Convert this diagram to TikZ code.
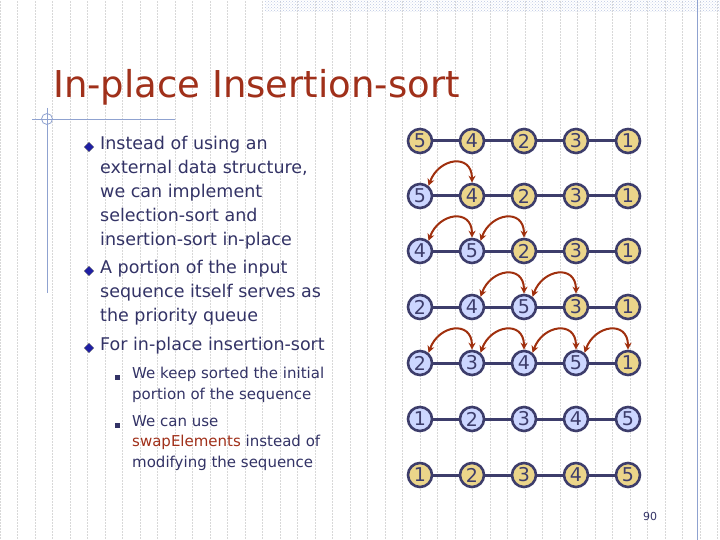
\documentclass[tikz,border=0pt]{standalone}
\usepackage{fontspec}
\setmainfont{DejaVu Sans}
\usetikzlibrary{arrows.meta,patterns,shapes.geometric}
\definecolor{txt}{HTML}{333366}
\definecolor{ttl}{HTML}{A0301A}
\definecolor{yel}{HTML}{EBD58A}
\definecolor{blu}{HTML}{CCD6FF}
\definecolor{edg}{HTML}{3D3D6B}
\definecolor{arc}{HTML}{A0300E}
\definecolor{gridc}{HTML}{D8D8D8}
\definecolor{deco}{HTML}{8FA2D0}
\tikzset{
 cell/.style={circle,draw=edg,line width=2.6pt,minimum size=24pt,inner sep=0pt,font=\fontsize{19}{19}\selectfont,text=edg},
 ycell/.style={cell,fill=yel}, bcell/.style={cell,fill=blu},
 link/.style={draw=edg,line width=3pt},
 swp/.style={draw=arc,line width=2pt,{Stealth[length=7pt,width=7pt]}-{Stealth[length=7pt,width=7pt]}},
 bt/.style={anchor=north west,text=txt,align=left,inner sep=0pt,font=\fontsize{17.5}{24}\selectfont},
 st/.style={anchor=north west,text=txt,align=left,inner sep=0pt,font=\fontsize{15}{20.5}\selectfont},
 dia/.style={diamond,fill=txt!60!blue,draw=gray,inner sep=0pt,minimum size=10pt},
 sq/.style={fill=txt,inner sep=0pt,minimum size=5pt}
}
\begin{document}
\begin{tikzpicture}[x=1pt,y=-1pt]
\useasboundingbox (0,0) rectangle (720,540);
\fill[white] (0,0) rectangle (720,540);
\draw[gridc,densely dotted,line width=0.5pt,step=17.5] (0,0) grid (720,540);
\fill[pattern=crosshatch dots,pattern color=deco!60] (265,0) rectangle (720,12);
\draw[deco,line width=0.8pt] (697,0) -- (697,540);
\draw[deco,line width=0.8pt] (32,119) -- (175,119);
\draw[deco,line width=0.8pt] (47,108) -- (47,293);
\draw[deco,line width=0.8pt] (47,119) circle (5.5);
\node[anchor=west,text=ttl,font=\fontsize{37}{37}\selectfont,inner sep=0pt] (title) at (53,87) {In-place Insertion-sort};
\node[bt] (b1) at (100,136) {Instead of using an\\external data structure,\\we can implement\\selection-sort and\\insertion-sort in-place};
\node[bt] (b2) at (100,260) {A portion of the input\\sequence itself serves as\\the priority queue};
\node[bt] (b3) at (100,337) {For in-place insertion-sort};
\node[st] (s1) at (132,367) {We keep sorted the initial\\portion of the sequence};
\node[st] (s2) at (132,415) {We can use\\\textcolor{ttl}{swapElements} instead of\\modifying the sequence};
\node[dia] (d1) at (89,147) {}; \node[dia] (d2) at (89,271) {}; \node[dia] (d3) at (89,348) {};
\node[sq] (q1) at (117,377) {}; \node[sq] (q2) at (117,425) {};
\node[text=txt,font=\fontsize{11}{11}\selectfont] (pg) at (650,516) {90};
\foreach \r/\y/\nb/\a/\b/\c/\d/\e in {1/141/0/5/4/2/3/1,2/196/1/5/4/2/3/1,3/251/2/4/5/2/3/1,4/307/3/2/4/5/3/1,5/363/4/2/3/4/5/1,6/419/5/1/2/3/4/5,7/475/0/1/2/3/4/5}{
  \foreach \i/\v in {1/\a,2/\b,3/\c,4/\d,5/\e}{
    \ifnum\i>\nb \node[ycell] (n\r-\i) at ({420+52*(\i-1)},\y) {\v};
    \else \node[bcell] (n\r-\i) at ({420+52*(\i-1)},\y) {\v}; \fi
  }
}
\foreach \r in {1,...,7}{
  \foreach \i [evaluate=\i as \j using int(\i+1)] in {1,...,4}{
    \draw[link] (n\r-\i) -- (n\r-\j);
  }
}
\foreach \r/\i in {2/1,3/1,3/2,4/2,4/3,5/1,5/2,5/3,5/4}{
  \pgfmathtruncatemacro\j{\i+1}
  \draw[swp] (n\r-\i.50) .. controls +(10,-28) and +(0,-30) .. (n\r-\j.north);
}
\end{tikzpicture}
\end{document}
